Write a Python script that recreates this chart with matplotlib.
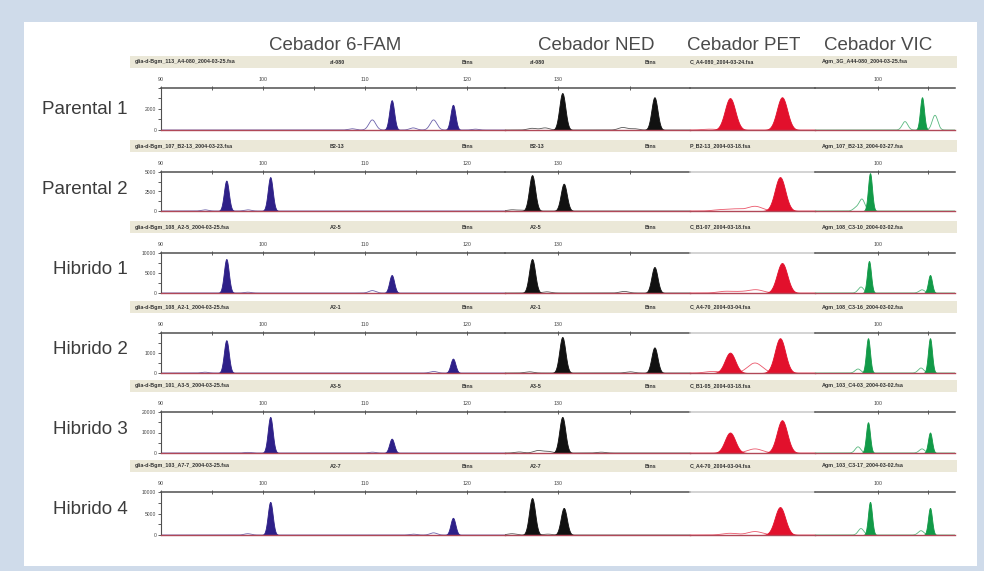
import numpy as np
import matplotlib
matplotlib.use("Agg")
import matplotlib.pyplot as plt
from matplotlib.patches import Rectangle

plt.rcParams['font.family'] = ['Liberation Sans', 'DejaVu Sans']

W, H = 984, 571

## rows / dyes
samples = ["Parental 1", "Parental 2", "Hibrido 1", "Hibrido 2", "Hibrido 3", "Hibrido 4"]
primers = ["Cebador 6-FAM", "Cebador NED", "Cebador PET", "Cebador VIC"]

# y scale (RFU) of every row and the labelled y ticks
row_ymax = [4000, 5000, 10000, 2000, 20000, 10000]
row_yticks = [[0, 2000], [0, 2500, 5000], [0, 5000, 10000], [0, 1000],
              [0, 10000, 20000], [0, 5000, 10000]]

# size ranges (bp) shown for each dye, and x ticks
fam_ticks = [90, 95, 100, 105, 110, 115, 120]
fam_labels = ["90", "", "100", "", "110", "", "120"]
ned_ticks = [130, 135]
ned_labels = ["130", ""]
vic_ticks = [100, 105]
vic_labels = ["100", ""]

## peaks: position (bp) and height (RFU), one list per row
fam_pos = [[112.6, 118.6], [96.4, 100.7], [96.4, 112.6], [96.4, 118.6], [100.7, 112.6], [100.7, 118.6]]
fam_h = [[2840, 2400], [3900, 4350], [8500, 4500], [1640, 720], [17600, 7000], [7700, 4000]]
fam_minor_pos = [[108.7, 110.7, 114.7, 116.7, 120.8], [94.3, 98.5], [110.7, 98.5],
                 [116.7, 94.3], [98.5, 110.7], [98.5, 116.7, 114.7]]
fam_minor_h = [[120, 960, 200, 960, 80], [150, 150], [600, 200], [80, 40], [300, 400], [300, 500, 200]]

ned_pos = [[130.3, 136.7], [128.2, 130.4], [128.2, 136.7], [130.3, 136.7], [130.3], [128.2, 130.4]]
ned_h = [[3520, 3120], [4600, 3500], [8500, 6500], [1800, 1280], [17600], [8600, 6300]]
ned_minor_pos = [[128.2, 129.1, 134.5, 135.3], [126.8, 127.5], [129.2, 134.6],
                 [128.0, 135.0], [127.3, 128.6, 129.3, 133.0], [126.8, 129.3]]
ned_minor_h = [[160, 200, 240, 120], [150, 100], [300, 400], [60, 60], [500, 1200, 800, 400], [300, 200]]

pet_pos = [[240.0, 245.2], [245.0], [245.2], [240.0, 245.0], [240.0, 245.2], [245.0]]
pet_h = [[3040, 3120], [4350], [7500], [1020, 1740], [10000, 16000], [6500]]
pet_minor_pos = [[238.0], [239.0, 240.5, 242.5], [239.5, 241.0, 242.6], [238.3, 242.5], [242.5], [240.0, 242.5]]
pet_minor_h = [[80], [150, 250, 600], [400, 300, 800], [80, 500], [2000], [400, 800]]

vic_pos = [[104.4], [99.2], [99.1, 105.2], [99.0, 105.2], [99.0, 105.2], [99.2, 105.2]]
vic_h = [[3120], [4850], [8000, 4500], [1740, 1740], [15000, 10000], [7700, 6300]]
vic_minor_pos = [[102.7, 105.7], [97.8, 98.4], [98.3, 104.4], [98.0, 104.3], [98.0, 104.4], [98.3, 104.3]]
vic_minor_h = [[800, 1400], [400, 1500], [1500, 800], [200, 250], [3000, 2000], [1500, 1000]]

# header strip texts
fam_files = ["glia-d-Bgm_113_A4-080_2004-03-25.fsa", "glia-d-Bgm_107_B2-13_2004-03-23.fsa",
             "glia-d-Bgm_108_A2-5_2004-03-25.fsa", "glia-d-Bgm_108_A2-1_2004-03-25.fsa",
             "glia-d-Bgm_101_A3-5_2004-03-25.fsa", "glia-d-Bgm_103_A7-7_2004-03-25.fsa"]
sample_tags = ["al-080", "B2-13", "A2-5", "A2-1", "A3-5", "A2-7"]
pet_files = ["C_A4-080_2004-03-24.fsa", "P_B2-13_2004-03-18.fsa", "C_B1-07_2004-03-18.fsa",
             "C_A4-70_2004-03-04.fsa", "C_B1-05_2004-03-18.fsa", "C_A4-70_2004-03-04.fsa"]
vic_files = ["Agm_3G_A44-080_2004-03-25.fsa", "Agm_107_B2-13_2004-03-27.fsa",
             "Agm_108_C3-10_2004-03-02.fsa", "Agm_108_C3-16_2004-03-02.fsa",
             "Agm_103_C4-03_2004-03-02.fsa", "Agm_103_C3-17_2004-03-02.fsa"]

## layout, in pixels
row_top = [88, 172, 253, 333, 412, 492]
row_base = [130, 211, 293, 373, 453, 535]
label_y = [110, 190, 270, 350, 429, 509]
seg_px = [(161, 505), (505, 690), (690, 815), (815, 955)]
seg_xlim = [(90.0, 123.7), (126.32, 139.17), (236.0, 248.5), (93.7, 107.7)]
dye_col = ["#2e2088", "#111111", "#e2102c", "#129a48"]
dye_sig = [0.24, 0.21, 0.52, 0.2]
title_x = [335, 596, 744, 878]


def fx(x):
    return x / W


def fy(y):
    return 1 - y / H


def gauss(x, pos, h, s):
    y = np.zeros_like(x)
    for p, hh in zip(pos, h):
        y += hh * np.exp(-0.5 * ((x - p) / s) ** 2)
    return y


fig = plt.figure(figsize=(W / 100, H / 100), dpi=100, facecolor="#cfdbea")
fig.patches.append(Rectangle((fx(24), fy(566)), fx(977 - 24), (566 - 22) / H,
                             transform=fig.transFigure, fc="white", ec="none", zorder=-10))

for k, t in enumerate(primers):
    fig.text(fx(title_x[k]), fy(45), t, ha="center", va="center", fontsize=13.5, color="#4a4a4a")

peaks = [(fam_pos, fam_h, fam_minor_pos, fam_minor_h),
         (ned_pos, ned_h, ned_minor_pos, ned_minor_h),
         (pet_pos, pet_h, pet_minor_pos, pet_minor_h),
         (vic_pos, vic_h, vic_minor_pos, vic_minor_h)]

for i in range(len(samples)):
    top, base = row_top[i], row_base[i]

    # header strip
    hy = top - 26
    fig.patches.append(Rectangle((fx(130), fy(hy + 6)), fx(957 - 130), 12 / H,
                                 transform=fig.transFigure, fc="#ebe8d8", ec="none", zorder=-5))
    hdr = [(135, fam_files[i]), (330, sample_tags[i]), (462, "Bins"), (530, sample_tags[i]),
           (645, "Bins"), (690, pet_files[i]), (822, vic_files[i])]
    for xx, s in hdr:
        fig.text(fx(xx), fy(hy), s, ha="left", va="center", fontsize=3.9,
                 fontweight="bold", color="#333333")

    fig.text(fx(128), fy(label_y[i]), samples[i], ha="right", va="center",
             fontsize=13.5, color="#3c3c3c")

    for d in range(4):
        x0, x1 = seg_px[d]
        ax = fig.add_axes([fx(x0), fy(base), fx(x1 - x0), (base - top) / H])
        ax.set_facecolor("none")
        lo, hi = seg_xlim[d]
        xs = np.linspace(lo, hi, 2000)
        pos, h, mpos, mh = peaks[d]
        for p, hh in zip(pos[i], h[i]):
            y = gauss(xs, [p], [hh], dye_sig[d])
            ax.fill_between(xs, 0, y, color=dye_col[d], lw=0.6)
        ym = gauss(xs, mpos[i], mh[i], dye_sig[d] * 1.4)
        ax.plot(xs, ym, color=dye_col[d], lw=0.6, alpha=0.7)
        ax.set_xlim(lo, hi)
        ax.set_ylim(0, row_ymax[i])

        ax.spines["right"].set_visible(False)
        ax.spines["bottom"].set_color("#b04858")
        ax.spines["bottom"].set_linewidth(1.0)
        top_col = "#505050"
        if d == 2 and i > 0:
            top_col = "#c8c8c8"
        ax.spines["top"].set_color(top_col)
        ax.spines["top"].set_linewidth(1.1)

        ax.xaxis.tick_top()
        if d == 0:
            ax.set_xticks(fam_ticks, fam_labels)
        elif d == 1:
            ax.set_xticks(ned_ticks, ned_labels)
        elif d == 3:
            ax.set_xticks(vic_ticks, vic_labels)
        else:
            ax.set_xticks([])
        ax.tick_params(axis="x", which="both", labelsize=3.8, length=3, width=0.6,
                       direction="inout", pad=3, colors="#444444")

        if d == 0:
            ax.spines["left"].set_color("#505050")
            ax.spines["left"].set_linewidth(0.8)
            yt = row_yticks[i]
            ax.set_yticks(yt, [str(v) for v in yt])
            ax.set_yticks(np.arange(0, row_ymax[i] + 1, row_ymax[i] / 4), minor=True)
            ax.tick_params(axis="y", which="both", labelsize=3.6, length=2, width=0.6,
                           pad=1.5, colors="#444444")
        else:
            ax.spines["left"].set_visible(False)
            ax.set_yticks([])

fig.savefig("out.png", dpi=100, facecolor=fig.get_facecolor())
